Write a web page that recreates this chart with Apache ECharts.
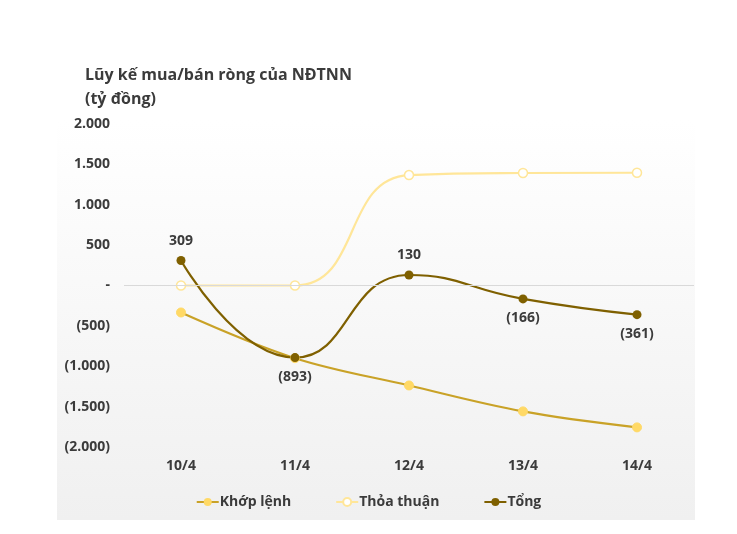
<!DOCTYPE html>
<html><head><meta charset="utf-8">
<script src="https://cdn.jsdelivr.net/npm/echarts@6/dist/echarts.min.js"></script>
<style>html,body{margin:0;padding:0;background:#fff}#c{width:737px;height:534px}</style>
</head><body><div id="c"></div>
<script>
var categories = ['10/4', '11/4', '12/4', '13/4', '14/4'];
var khopLenh = [-334, -900, -1238, -1559, -1757];
var thoaThuan = [0, 0, 1368, 1393, 1396];
var tong = [309, -893, 130, -166, -361];
var tongLabelPos = ['top', 'bottom', 'top', 'bottom', 'bottom'];

function fmtNum(v) {
  if (v === 0) return '-';
  var s = Math.abs(v).toString().replace(/\B(?=(\d{3})+(?!\d))/g, '.');
  return v < 0 ? '(' + s + ')' : s;
}
var txt = '#3b3b3b';
var font = 'Open Sans';
var chart = echarts.init(document.getElementById('c'));
chart.setOption({
  animation: false,
  textStyle: { fontFamily: font },
  graphic: [
    { type: 'rect', z: -10, shape: { x: 57, y: 20, width: 638, height: 500 },
      style: { fill: new echarts.graphic.LinearGradient(0, 0, 0, 1, [
        { offset: 0, color: '#ffffff' }, { offset: 0.2, color: '#ffffff' }, { offset: 1, color: '#f0f0f0' }]) } },
    { type: 'text', left: 85, top: 63, style: { text: 'Lũy kế mua/bán ròng của NĐTNN\n(tỷ đồng)',
      fill: txt, font: 'bold 16px "Open Sans"', lineHeight: 24 } }
  ],
  grid: { left: 124, right: 43, top: 124, bottom: 87 },
  legend: {
    bottom: 20, left: 'center', itemGap: 44, itemWidth: 22, itemHeight: 10,
    textStyle: { color: txt, fontSize: 14, fontWeight: 'bold', fontFamily: font, padding: [0, 0, 0, -4] },
    data: ['Khớp lệnh', 'Thỏa thuận', 'Tổng']
  },
  xAxis: {
    type: 'category', data: categories, boundaryGap: true,
    axisLine: { show: false }, axisTick: { show: false },
    axisLabel: { color: txt, fontSize: 14, fontWeight: 'bold', margin: 12 }
  },
  yAxis: {
    type: 'value', min: -2000, max: 2000, interval: 500,
    splitLine: { show: false },
    axisLine: { show: false }, axisTick: { show: false },
    axisLabel: { color: txt, fontSize: 14, fontWeight: 'bold', margin: 14, formatter: fmtNum }
  },
  series: [
    { name: 'Zero', type: 'line', data: [], silent: true,
      markLine: { symbol: 'none', silent: true, label: { show: false },
        lineStyle: { color: '#d9d9d9', width: 1, type: 'solid' }, data: [{ yAxis: 0 }] } },
    { name: 'Khớp lệnh', type: 'line', data: khopLenh, smooth: 0.35,
      symbol: 'circle', symbolSize: 9,
      lineStyle: { color: '#c9a227', width: 2.2 },
      itemStyle: { color: '#ffd966', borderColor: '#ffd966' } },
    { name: 'Thỏa thuận', type: 'line', data: thoaThuan, smooth: 0.5,
      symbol: 'circle', symbolSize: 9,
      lineStyle: { color: '#ffe699', width: 2.2 },
      itemStyle: { color: '#ffffff', borderColor: '#ffe699', borderWidth: 1.5 } },
    { name: 'Tổng', type: 'line', data: tong.map(function (v, i) {
        return { value: v, label: { position: tongLabelPos[i] } }; }), smooth: 0.5,
      symbol: 'circle', symbolSize: 9,
      lineStyle: { color: '#7f6000', width: 2.2 },
      itemStyle: { color: '#7f6000' },
      label: { show: true, color: txt, fontSize: 14, fontWeight: 'bold', distance: 8,
        formatter: function (p) { return fmtNum(p.value); } } }
  ]
});
</script></body></html>
